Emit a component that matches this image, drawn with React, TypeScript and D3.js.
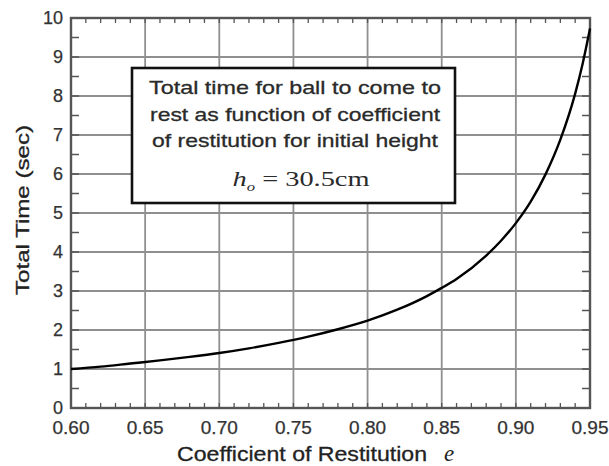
import React from "react";
import * as d3 from "d3";

const restitution = [0.6, 0.62, 0.64, 0.66, 0.68, 0.7, 0.72, 0.74, 0.76, 0.78, 0.8, 0.82, 0.84, 0.85, 0.86, 0.88, 0.89, 0.9, 0.91, 0.92, 0.93, 0.94, 0.945, 0.95];
const totalTime = [1.0, 1.06, 1.14, 1.22, 1.31, 1.41, 1.53, 1.67, 1.83, 2.02, 2.24, 2.52, 2.87, 3.08, 3.31, 3.91, 4.29, 4.74, 5.29, 5.99, 6.88, 8.06, 8.82, 9.73];
const xTicks = [0.6, 0.65, 0.7, 0.75, 0.8, 0.85, 0.9, 0.95];
const yTicks = [0, 1, 2, 3, 4, 5, 6, 7, 8, 9, 10];
const boxLines = [
  "Total time for ball to come to",
  "rest as function of coefficient",
  "of restitution for initial height",
];
const boxLineWidths = [292, 290, 286];

const W = 609, H = 466;
const L = 71, R = 590, T = 18, B = 408;

export default function App() {
  const x = d3.scaleLinear().domain([0.6, 0.95]).range([L, R]);
  const y = d3.scaleLinear().domain([0, 10]).range([B, T]);
  const xMinor = d3.range(0, 36).map((i) => 0.6 + i * 0.01);
  const yMinor = d3.range(0, 21).map((i) => i * 0.5);
  const pts: [number, number][] = restitution.map((e, i) => [e, totalTime[i]]);
  const line = d3.line<[number, number]>().x((d) => x(d[0])).y((d) => y(d[1])).curve(d3.curveMonotoneX);
  const axisColor = "#555";
  const gridColor = "#8f8f8f";
  const font = "Liberation Sans, Arial, sans-serif";
  const serif = "Liberation Serif, Times New Roman, serif";
  return (
    <svg width={W} height={H} style={{ position: "absolute", left: 0, top: 0, background: "#fff" }}>
      <rect x={0} y={0} width={W} height={H} fill="#fff" />
      {xTicks.slice(1, -1).map((t) => (
        <line key={"gx" + t} x1={x(t)} x2={x(t)} y1={T} y2={B} stroke={gridColor} strokeWidth={1.8} />
      ))}
      {yTicks.slice(1, -1).map((t) => (
        <line key={"gy" + t} x1={L} x2={R} y1={y(t)} y2={y(t)} stroke={gridColor} strokeWidth={1.8} />
      ))}
      {xMinor.map((t, i) => (
        <g key={"mx" + i}>
          <line x1={x(t)} x2={x(t)} y1={B} y2={B - 5} stroke={axisColor} strokeWidth={1.3} />
          <line x1={x(t)} x2={x(t)} y1={T} y2={T + 5} stroke={axisColor} strokeWidth={1.3} />
        </g>
      ))}
      {yMinor.map((t, i) => (
        <g key={"my" + i}>
          <line x1={L} x2={L + 8} y1={y(t)} y2={y(t)} stroke={axisColor} strokeWidth={1.5} />
          <line x1={R} x2={R - 8} y1={y(t)} y2={y(t)} stroke={axisColor} strokeWidth={1.5} />
        </g>
      ))}
      <rect x={L} y={T} width={R - L} height={B - T} fill="none" stroke={axisColor} strokeWidth={2.4} />
      <path d={line(pts) || ""} fill="none" stroke="#000" strokeWidth={2.4} />
      <rect x={132} y={68} width={323} height={135} fill="#fff" stroke="#111" strokeWidth={2.6} />
      {boxLines.map((s, i) => (
        <text key={s} x={295} y={94 + i * 26.5} textAnchor="middle" fontFamily={font} fontSize={19}
          textLength={boxLineWidths[i]} lengthAdjust="spacingAndGlyphs" fill="#2a2a2a" stroke="#2a2a2a" strokeWidth={0.3}>
          {s}
        </text>
      ))}
      <text x={301} y={186} textAnchor="middle" fontFamily={serif} fontSize={22} fill="#2a2a2a"
        textLength={137} lengthAdjust="spacingAndGlyphs">
        <tspan fontStyle="italic">h</tspan>
        <tspan fontStyle="italic" fontSize={13} dy={5}>o</tspan>
        <tspan dy={-5}> = 30.5cm</tspan>
      </text>
      {xTicks.map((t) => (
        <text key={"xl" + t} x={x(t)} y={434} textAnchor="middle" fontFamily={font} fontSize={18}
          textLength={37} lengthAdjust="spacingAndGlyphs" fill="#333" stroke="#333" strokeWidth={0.25}>
          {t.toFixed(2)}
        </text>
      ))}
      {yTicks.map((t) => (
        <text key={"yl" + t} x={63} y={y(t) + 6} textAnchor="end" fontFamily={font} fontSize={18} fill="#333" stroke="#333" strokeWidth={0.25}>
          {t}
        </text>
      ))}
      <text x={177} y={461} fontFamily={font} fontSize={21} fill="#222" textLength={250} lengthAdjust="spacingAndGlyphs"
        stroke="#222" strokeWidth={0.3}>
        Coefficient of Restitution
      </text>
      <text x={444} y={461} fontFamily={serif} fontStyle="italic" fontSize={23} fill="#222">e</text>
      <text transform={`translate(29,${210}) rotate(-90)`} textAnchor="middle" fontFamily={font} fontSize={19}
        textLength={170} lengthAdjust="spacingAndGlyphs" fill="#222" stroke="#222" strokeWidth={0.3}>
        Total Time (sec)
      </text>
    </svg>
  );
}
